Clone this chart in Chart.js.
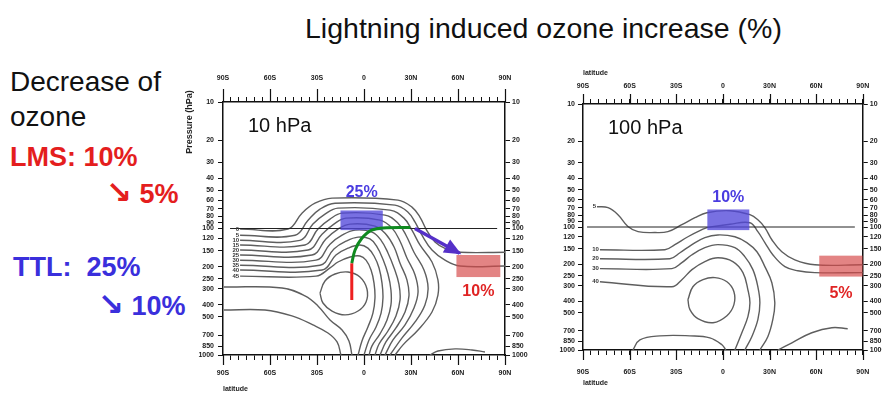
<!DOCTYPE html>
<html>
<head>
<meta charset="utf-8">
<script src="https://cdn.jsdelivr.net/npm/chart.js@4.4.1/dist/chart.umd.min.js"></script>
<style>
  html, body { margin: 0; padding: 0; background: #fff; }
  body { width: 882px; height: 396px; position: relative; overflow: hidden;
         font-family: "Liberation Sans", Arial, sans-serif; }
  .t { position: absolute; line-height: 0; white-space: pre; }
  .arw { font-family: "DejaVu Sans", sans-serif; font-size: 31px; }
  canvas { position: absolute; }
</style>
</head>
<body>
<div class="t" style="left:305px;top:28.4px;font-size:28.5px;color:#111">Lightning induced ozone increase (%)</div>

<div class="t" style="left:10px;top:82px;font-size:28px;color:#111">Decrease of</div>
<div class="t" style="left:10px;top:117px;font-size:28px;color:#111">ozone</div>
<div class="t" style="left:10px;top:157.3px;font-size:27px;font-weight:bold;color:#e41e1e">LMS: 10%</div>
<div class="t" style="left:106px;top:192.3px;font-size:27px;font-weight:bold;color:#e41e1e"><span class="arw">↘</span> 5%</div>
<div class="t" style="left:13px;top:267.3px;font-size:27px;font-weight:bold;color:#3a2fdc">TTL:  25%</div>
<div class="t" style="left:98px;top:303.6px;font-size:27px;font-weight:bold;color:#3a2fdc"><span class="arw">↘</span> 10%</div>

<canvas id="p10" width="365" height="341" style="left:175px;top:55px"></canvas>
<canvas id="p100" width="342" height="341" style="left:540px;top:55px"></canvas>

<script>
// ---- axes ----
const latTicks = [-90,-85,-80,-75,-70,-65,-60,-55,-50,-45,-40,-35,-30,-25,-20,-15,-10,-5,0,
                  5,10,15,20,25,30,35,40,45,50,55,60,65,70,75,80,85,90];
const latLabelValues = [-90, -60, -30, 0, 30, 60, 90];
const latLabels = ['90S', '60S', '30S', '0', '30N', '60N', '90N'];
const pressureTicks = [10,20,30,40,50,60,70,80,90,100,120,150,200,250,300,400,500,700,850,1000];

// ---- tropopause (100 hPa) ----
const tropo10  = [[-85.5,100],[85,100]];
const tropo100 = [[-87.4,100],[84.9,100]];

// ---- 10 hPa panel: ozone increase contours [lat, hPa] ----
const c10_0 = [[-79.1,101],[-48.5,101],[-39.6,75.6],[-31.3,63.1],[-20.4,57.5],[21.7,59.7],[30.6,67.8],[35.7,81.3],[39.6,101],[45.3,128],[52.3,145],[61.3,154],[90,154]];
const c10_1 = [[-79.1,113],[-44,113],[-35.7,85.9],[-28.1,70.3],[-18.5,63.1],[19.8,65.4],[28.1,74.3],[32.6,89.1],[37,113],[43.4,148],[51.7,178],[61.3,198],[90,198]];
const c10_2 = [[-79.1,124],[-40.9,124],[-32.6,92.3],[-24.9,77],[-16.6,69],[16.6,71.6],[25.5,82.8],[30.6,103],[35.7,135],[43.4,184],[47.2,255],[47.2,336],[43.4,457],[34.5,634],[24.9,832],[19.8,1000]];
const c10_3 = [[-79.1,135],[-37.7,135],[-29.4,101],[-21.7,84.3],[-14,75.6],[13.4,78.4],[21.7,90.7],[26.8,113],[31.9,154],[38.3,213],[40.9,295],[38.9,402],[32.6,548],[24.3,733],[16.6,1000]];
const c10_4 = [[-79.1,148],[-35.7,148],[-26.8,111],[-19.2,92.3],[-11.5,82.8],[10.2,85.9],[17.9,99.3],[23,126],[27.4,171],[32.6,233],[34.5,318],[31.9,425],[26.2,578],[18.5,760],[13.4,1000]];
const c10_5 = [[-79.1,162],[-33.2,162],[-24.3,121],[-16.6,101],[-8.9,92.3],[7,95.7],[14,111],[19.2,140],[23,188],[27.4,255],[28.7,341],[26.2,457],[20.4,611],[14,789],[10.2,1000]];
const c10_6 = [[-79.1,178],[-30.6,178],[-21.7,133],[-14,113],[-5.7,103],[5.1,107],[10.9,124],[15.3,156],[19.2,205],[22.3,275],[23,367],[20.4,491],[15.3,646],[9.6,818],[7,1000]];
const c10_7 = [[-79.1,195],[-28.1,195],[-19.2,145],[-11.5,126],[-3.8,117],[3.8,121],[8.3,140],[12.1,175],[15.3,229],[17.2,306],[17.2,402],[14.7,528],[10.2,681],[5.1,847],[3.2,1000]];
const c10_8 = [[-79.1,213],[-26.8,213],[-17.9,162],[-10.2,143],[-2.6,135],[2.5,143],[6.4,165],[9.6,205],[11.5,270],[12.1,354],[10.9,466],[7.7,600],[3.2,760],[0,1000]];
const c10_9 = [[-79.1,238],[-30.6,238],[-21.7,205],[-16.6,184],[-8.9,168],[-2.6,165],[1.3,178],[4.5,213],[6.4,270],[7,354],[5.7,466],[2.5,600],[-1.3,774],[-3.8,1000]];
const c10_l1 = [[-89.4,290],[-52.3,295],[-37.7,341],[-29.4,409],[-21.7,528],[-14,634],[-9.6,774],[-7.7,1000]];
const c10_l2 = [[-89.4,441],[-63.2,441],[-46,491],[-32.6,578],[-23,670],[-17.2,789],[-14.7,1000]];
const c10_core = [[-28.1,324],[-24.9,260],[-18.5,229],[-10.2,221],[-2.6,242],[1.9,301],[1.3,381],[-3.8,449],[-12.1,482],[-20.4,449],[-26.2,388],[-28.1,324]];
const c10_low = [[42.1,1000],[47.2,929],[58.1,895],[68.9,912],[77.2,946]];
const contours10 = [c10_0,c10_1,c10_2,c10_3,c10_4,c10_5,c10_6,c10_7,c10_8,c10_9,c10_l1,c10_l2,c10_core,c10_low];
const contourLabels10 = ['0','5','10','15','20','25','30','35','40','45',null,null,null,null];

// transport paths: convective uplift, poleward turn and outflow arrow
const upliftPath = [[-7.8,188],[-7.8,367]];
const greenPath  = [[-7.8,188],[-5.7,148],[-1.5,120],[4.9,103],[14.5,98.7],[29.4,98]];
const outflowArrow = [[32.5,100],[61,157]];

// ---- 100 hPa panel contours [lat, hPa] ----
const c100_0 = [[-81,68.4],[-73.9,69.7],[-67.5,79.4],[-61.1,99],[-54.6,109],[-43.7,111],[-35.4,109],[-26.4,95.8],[-18,84],[-10.3,76.5],[4.5,73.7],[17.4,79.4],[22.5,87.2],[27,101],[31.5,127],[37.9,159],[46.3,185],[59.2,203],[90,203]];
const c100_1 = [[-79.1,153],[-37.3,153],[-30.9,139],[-22.5,120],[-13.5,105],[-9.6,100.6],[4.5,95],[17.4,92.3],[22.5,109],[27,134],[32.1,168],[39.9,210],[48.2,227],[59.2,235],[90,235]];
const c100_2 = [[-79.1,181],[-34.1,181],[-27.6,162],[-19.9,139],[-11.6,122],[-3.2,116],[7.7,120],[15.4,134],[21.9,159],[27,210],[31.5,284],[33.4,412],[32.1,567],[28.9,780],[23.8,1000]];
const c100_3 = [[-79.1,218],[-32.8,218],[-26.4,195],[-19.9,168],[-11.6,147],[-3.2,139],[7.7,147],[14.1,174],[19.3,222],[22.5,306],[23.8,412],[22.5,567],[18.6,780],[14.1,1000]];
const c100_4 = [[-79.1,279],[-32.8,306],[-26.4,268],[-19.9,222],[-11.6,191],[-3.2,178],[6.4,191],[12.9,235],[16.1,324],[17.4,412],[16.1,536],[12.2,724],[7.7,1000]];
const c100_core = [[-22.5,390],[-19.3,306],[-12.8,268],[-5.1,258],[2.6,279],[7.1,336],[7.1,428],[2.6,526],[-6.4,600],[-16.1,556],[-21.2,470],[-22.5,390]];
const c100_low1 = [[-57.9,1000],[-53.4,826],[-40.5,767],[-21.2,767],[-8.4,796],[-0.6,907],[1.9,1000]];
const c100_low2 = [[35.4,1000],[44.4,874],[57.2,724],[70.1,659],[80.3,671]];
const contours100 = [c100_0,c100_1,c100_2,c100_3,c100_4,c100_core,c100_low1,c100_low2];
const contourLabels100 = ['5','10','20','30','40',null,null,null];

// ---- highlighted regions [lat0, lat1, p0, p1] and their percentages ----
const ttlBox10  = [-15, 12, 72, 103];
const lmsBox10  = [59, 87, 162, 242];
const ttlBox100 = [-10, 17, 72, 106];
const lmsBox100 = [62, 90, 171, 253];
const ttlPct10 = '25%', lmsPct10 = '10%', ttlPct100 = '10%', lmsPct100 = '5%';

// ---- styling ----
const INK = '#111';
const CONTOUR = '#5e5e5e';
const tickFont = { family: 'Liberation Sans', size: 7, weight: 'bold' };

const pts = arr => arr.map(([x, y]) => ({ x, y }));
const line = (arr, color, width, tension) => ({
  data: pts(arr), showLine: true, borderColor: color, borderWidth: width,
  pointRadius: 0, fill: false, tension: tension, xAxisID: 'x', yAxisID: 'y'
});

function latAxis(position, pad, h) {
  return {
    type: 'linear', position, min: -90, max: 90,
    afterBuildTicks: s => { s.ticks = latTicks.map(v => ({ value: v })); },
    afterFit: s => { s.height = h; },
    grid: { drawOnChartArea: false, tickLength: 5, color: INK, lineWidth: 1 },
    border: { display: true, color: INK, width: 1.5 },
    ticks: {
      autoSkip: false, maxRotation: 0, minRotation: 0, padding: pad, font: tickFont, color: '#1a1a1a',
      callback: v => { const i = latLabelValues.indexOf(v); return i < 0 ? '' : latLabels[i]; }
    }
  };
}
function presAxis(position, pad, w) {
  return {
    type: 'logarithmic', position, min: 10, max: 1000, reverse: true,
    afterBuildTicks: s => { s.ticks = pressureTicks.map(v => ({ value: v })); },
    afterFit: s => { s.width = w; },
    grid: { drawOnChartArea: false, tickLength: 5, color: INK, lineWidth: 1 },
    border: { display: true, color: INK, width: 1.5 },
    ticks: { autoSkip: false, padding: pad, font: tickFont, color: '#1a1a1a', callback: v => String(v) }
  };
}

// Shaded regions under the overlay paths, labels, arrowhead, long ticks and axis names.
function panelDecor(cfg) {
  return {
    id: 'panelDecor',
    afterDatasetDraw(chart, args) {
      if (args.index !== cfg.boxesAfter) return;
      const { ctx, chartArea: a } = chart;
      const xs = chart.scales.x, ys = chart.scales.y;
      ctx.save();
      ctx.beginPath(); ctx.rect(a.left, a.top, a.right - a.left, a.bottom - a.top); ctx.clip();
      for (const b of cfg.boxes) {
        const x0 = xs.getPixelForValue(b.rect[0]), x1 = xs.getPixelForValue(b.rect[1]);
        const y0 = ys.getPixelForValue(b.rect[2]), y1 = ys.getPixelForValue(b.rect[3]);
        ctx.fillStyle = b.fill;
        ctx.fillRect(Math.min(x0, x1), Math.min(y0, y1), Math.abs(x1 - x0), Math.abs(y1 - y0));
      }
      ctx.restore();
    },
    afterDatasetsDraw(chart) {
      const { ctx, chartArea: a } = chart;
      const xs = chart.scales.x, ys = chart.scales.y;
      ctx.save();
      // contour value labels at the start of each line
      ctx.font = 'bold 6px "Liberation Sans"';
      ctx.fillStyle = '#333';
      ctx.textAlign = 'right';
      ctx.textBaseline = 'middle';
      cfg.contourLabels.forEach((txt, i) => {
        if (!txt) return;
        const p = chart.getDatasetMeta(cfg.firstContour + i).data[0];
        ctx.fillText(txt, p.x - 1, p.y);
      });
      // percentages beside the shaded regions
      ctx.textAlign = 'center';
      for (const b of cfg.boxes) {
        const cx = (xs.getPixelForValue(b.rect[0]) + xs.getPixelForValue(b.rect[1])) / 2;
        const yTop = ys.getPixelForValue(b.rect[2]), yBot = ys.getPixelForValue(b.rect[3]);
        ctx.font = 'bold 16px "Liberation Sans"';
        ctx.fillStyle = b.labelColor;
        ctx.fillText(b.label, cx, b.side === 'above' ? yTop - b.gap : yBot + b.gap);
      }
      // pressure level of the lightning source
      ctx.font = '20px "Liberation Sans"';
      ctx.fillStyle = INK;
      ctx.textAlign = 'left';
      ctx.textBaseline = 'alphabetic';
      ctx.fillText(cfg.title, a.left + 25, a.top + 30);
      // arrowhead on the outflow path
      if (cfg.arrowDataset != null) {
        const d = chart.getDatasetMeta(cfg.arrowDataset).data;
        const p1 = d[d.length - 2], p2 = d[d.length - 1];
        const ang = Math.atan2(p2.y - p1.y, p2.x - p1.x);
        const L = 15, W = 7.5;
        ctx.fillStyle = cfg.arrowColor;
        ctx.beginPath();
        ctx.moveTo(p2.x + 2 * Math.cos(ang), p2.y + 2 * Math.sin(ang));
        ctx.lineTo(p2.x - L * Math.cos(ang) + W * Math.sin(ang), p2.y - L * Math.sin(ang) - W * Math.cos(ang));
        ctx.lineTo(p2.x - L * Math.cos(ang) - W * Math.sin(ang), p2.y - L * Math.sin(ang) + W * Math.cos(ang));
        ctx.closePath();
        ctx.fill();
      }
      ctx.restore();
    },
    afterDraw(chart) {
      const { ctx, chartArea: a } = chart;
      const xs = chart.scales.x;
      ctx.save();
      ctx.strokeStyle = INK;
      ctx.lineWidth = 1.2;
      ctx.beginPath();
      for (const v of latLabelValues) {
        const px = Math.round(xs.getPixelForValue(v)) + 0.5;
        ctx.moveTo(px, a.top); ctx.lineTo(px, a.top - cfg.majorTop);
        ctx.moveTo(px, a.bottom); ctx.lineTo(px, a.bottom + cfg.majorBottom);
      }
      ctx.stroke();
      // axis names
      ctx.fillStyle = '#222';
      ctx.font = 'bold 7px "Liberation Sans"';
      ctx.textAlign = 'left';
      ctx.textBaseline = 'middle';
      if (cfg.latBottom != null) ctx.fillText('latitude', a.left, a.bottom + cfg.latBottom);
      if (cfg.latTop != null) ctx.fillText('latitude', a.left, a.top - cfg.latTop);
      if (cfg.presName != null) {
        ctx.save();
        ctx.translate(a.left - cfg.presName, a.top + 20);
        ctx.rotate(-Math.PI / 2);
        ctx.font = 'bold 9px "Liberation Sans"';
        ctx.textAlign = 'center';
        ctx.fillText('Pressure (hPa)', 0, 0);
        ctx.restore();
      }
      ctx.restore();
    }
  };
}

const common = {
  responsive: false, animation: false, devicePixelRatio: 1, events: [],
  plugins: { legend: { display: false }, tooltip: { enabled: false } }
};

// ---- 10 hPa panel ----
const overlay10 = [
  line(outflowArrow, '#5530c8', 3.5, 0),
  line(greenPath, '#0f8a1f', 3, 0.4),
  line(upliftPath, '#ee2020', 3, 0),
];
const under10 = [line(tropo10, '#222', 1, 0)];
const cont10 = contours10.map(c => line(c, CONTOUR, 1.4, 0.4));

new Chart(document.getElementById('p10'), {
  type: 'scatter',
  data: { datasets: [...overlay10, ...under10, ...cont10] },
  options: {
    ...common,
    layout: { padding: { left: 20, right: 9, top: 18, bottom: 17 } },
    scales: {
      x: latAxis('bottom', 8.8, 24),
      x2: latAxis('top', 14.8, 29),
      y: presAxis('left', 4, 28),
      y2: presAxis('right', 2, 26)
    }
  },
  plugins: [panelDecor({
    boxesAfter: overlay10.length,
    firstContour: overlay10.length + under10.length,
    contourLabels: contourLabels10,
    arrowDataset: 0, arrowColor: '#5530c8',
    title: '10 hPa', majorTop: 13, majorBottom: 10,
    latBottom: 34, latTop: null, presName: 33,
    boxes: [
      { rect: ttlBox10, fill: 'rgba(82,72,218,0.78)', label: ttlPct10, labelColor: '#4a3ce0', side: 'above', gap: 18 },
      { rect: lmsBox10, fill: 'rgba(214,74,74,0.68)', label: lmsPct10, labelColor: '#e02424', side: 'below', gap: 15 }
    ]
  })]
});

// ---- 100 hPa panel ----
const under100 = [line(tropo100, '#222', 1, 0)];
const cont100 = contours100.map(c => line(c, CONTOUR, 1.4, 0.4));

new Chart(document.getElementById('p100'), {
  type: 'scatter',
  data: { datasets: [...under100, ...cont100] },
  options: {
    ...common,
    layout: { padding: { left: 17, right: 0, top: 25, bottom: 18 } },
    scales: {
      x: latAxis('bottom', 12.8, 28),
      x2: latAxis('top', 8.8, 24),
      y: presAxis('left', 3, 26),
      y2: presAxis('right', 2, 19)
    }
  },
  plugins: [panelDecor({
    boxesAfter: 0,
    firstContour: under100.length,
    contourLabels: contourLabels100,
    arrowDataset: null,
    title: '100 hPa', majorTop: 10, majorBottom: 10,
    latBottom: 33, latTop: 31, presName: null,
    boxes: [
      { rect: ttlBox100, fill: 'rgba(82,72,218,0.78)', label: ttlPct100, labelColor: '#4a3ce0', side: 'above', gap: 12 },
      { rect: lmsBox100, fill: 'rgba(214,74,74,0.68)', label: lmsPct100, labelColor: '#e02424', side: 'below', gap: 17 }
    ]
  })]
});
</script>
</body>
</html>
